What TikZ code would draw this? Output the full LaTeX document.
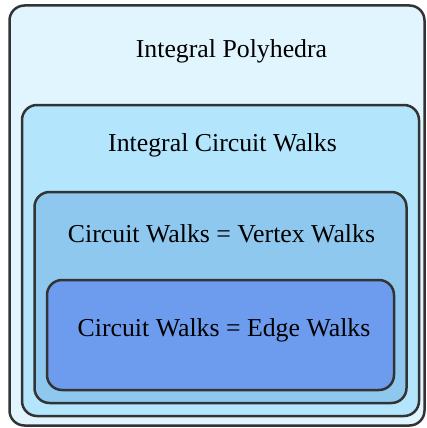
\documentclass[tikz,border=0pt]{standalone}
\usepackage{fontspec}
\setmainfont{Liberation Serif}
\definecolor{lvA}{HTML}{E1F5FE}
\definecolor{lvB}{HTML}{B3E5FC}
\definecolor{lvC}{HTML}{8FC8EE}
\definecolor{lvD}{HTML}{6D9CEE}
\definecolor{rim}{HTML}{333333}
\tikzset{
  level/.style={draw=rim, line width=2.5pt, rounded corners=15pt},
  lbl/.style={anchor=base, inner sep=0pt, font=\fontsize{25.8}{30}\selectfont, text=black}
}
\begin{document}
\begin{tikzpicture}[x=1pt, y=-1pt]
\useasboundingbox (0,0) rectangle (427,428);
% nested classes of polyhedra
\draw[level, fill=lvA] (9.5,5.5) rectangle (424.5,425.5);
\draw[level, fill=lvB] (22,105) rectangle (419,416);
\draw[level, fill=lvC] (34.5,192) rectangle (406.5,403);
\draw[level, fill=lvD] (47,280) rectangle (394,390);
% labels
\node[lbl] (poly) at (231.5,57) {Integral Polyhedra};
\node[lbl] (icw) at (222.5,151.5) {Integral Circuit Walks};
\node[lbl] (cvw) at (221.5,242) {Circuit Walks = Vertex Walks};
\node[lbl] (cew) at (224,336.5) {Circuit Walks = Edge Walks};
\end{tikzpicture}
\end{document}
